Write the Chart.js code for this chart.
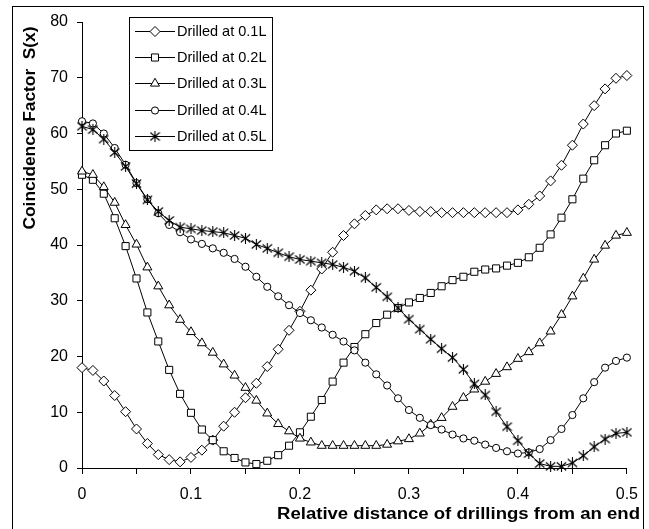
<!DOCTYPE html>
<html>
<head>
<meta charset="utf-8">
<script src="https://cdn.jsdelivr.net/npm/chart.js@4/dist/chart.umd.min.js"></script>
<style>
  html, body { margin: 0; padding: 0; background: #fff; }
  #wrap { width: 649px; height: 529px; }
</style>
</head>
<body>
<div id="wrap"><canvas id="coincidenceChart" width="649" height="529"></canvas></div>
<script>
const distance = [
  0, 0.01, 0.02, 0.03, 0.04, 0.05, 0.06, 0.07, 0.08, 0.09,
  0.1, 0.11, 0.12, 0.13, 0.14, 0.15, 0.16, 0.17, 0.18, 0.19,
  0.2, 0.21, 0.22, 0.23, 0.24, 0.25, 0.26, 0.27, 0.28, 0.29,
  0.3, 0.31, 0.32, 0.33, 0.34, 0.35, 0.36, 0.37, 0.38, 0.39,
  0.4, 0.41, 0.42, 0.43, 0.44, 0.45, 0.46, 0.47, 0.48, 0.49, 0.5
];

const drilled01 = [
  18.0, 17.5, 15.6, 13.0, 10.1, 7.0, 4.4, 2.4, 1.5, 1.1,
  1.9, 3.2, 5.0, 7.5, 10.0, 12.6, 15.2, 18.2, 21.3, 24.7,
  28.1, 31.9, 35.7, 38.7, 41.7, 43.8, 45.3, 46.3, 46.5, 46.5,
  46.2, 46.0, 46.0, 45.8, 45.8, 45.8, 45.8, 45.8, 45.8, 45.8,
  46.3, 47.3, 48.8, 51.5, 54.3, 57.9, 61.7, 65.0, 68.0, 69.9, 70.4
];

const drilled02 = [
  52.6, 51.7, 49.2, 44.8, 39.8, 34.0, 27.9, 22.7, 17.6, 13.3,
  9.9, 6.9, 5.0, 3.0, 1.8, 1.0, 0.7, 1.3, 2.3, 4.0,
  6.4, 9.2, 12.2, 15.5, 18.9, 21.7, 24.0, 26.0, 27.5, 28.7,
  29.7, 30.5, 31.4, 32.6, 33.7, 34.3, 35.2, 35.6, 35.8, 36.3,
  36.8, 37.8, 39.5, 41.9, 44.9, 48.2, 51.9, 55.2, 57.9, 60.0, 60.5
];

const drilled03 = [
  53.2, 52.6, 50.4, 47.6, 43.6, 40.1, 36.0, 32.6, 29.2, 26.6,
  24.4, 22.4, 20.7, 18.6, 16.6, 14.4, 12.1, 9.8, 7.9, 6.6,
  5.3, 4.6, 4.0, 4.0, 4.0, 4.0, 4.0, 4.0, 4.2, 4.8,
  5.2, 6.2, 7.8, 9.0, 11.0, 12.6, 14.1, 15.5, 16.9, 18.1,
  19.6, 20.8, 22.4, 24.5, 27.5, 30.8, 34.0, 37.4, 39.9, 41.7, 42.2
];

const drilled04 = [
  62.2, 61.8, 60.0, 57.4, 54.4, 51.1, 48.2, 45.7, 43.6, 42.3,
  41.0, 40.2, 39.4, 38.6, 37.5, 36.1, 34.3, 32.5, 30.8, 29.2,
  27.8, 26.5, 25.2, 23.9, 22.7, 21.1, 18.9, 16.8, 14.8, 12.5,
  10.4, 9.0, 7.7, 6.9, 6.0, 5.3, 4.9, 4.2, 3.6, 3.0,
  2.6, 2.8, 3.4, 5.0, 7.0, 9.5, 12.5, 15.4, 18.0, 19.2, 19.8
];

const drilled05 = [
  61.3, 60.7, 59.0, 56.6, 54.1, 51.0, 48.1, 46.0, 44.4, 43.2,
  42.9, 42.6, 42.4, 42.2, 41.7, 41.2, 40.1, 39.4, 38.6, 37.9,
  37.4, 37.1, 36.8, 36.5, 36.0, 35.3, 34.1, 32.4, 30.7, 28.7,
  26.7, 24.9, 23.1, 21.4, 19.8, 17.7, 15.1, 13.1, 10.1, 7.4,
  4.9, 2.6, 0.8, 0.3, 0.3, 0.9, 2.2, 3.8, 5.2, 6.2, 6.4
];

const seriesNames = ['Drilled at 0.1L', 'Drilled at 0.2L', 'Drilled at 0.3L', 'Drilled at 0.4L', 'Drilled at 0.5L'];
const seriesValues = [drilled01, drilled02, drilled03, drilled04, drilled05];

const FONT = '"Liberation Sans", Arial, Helvetica, sans-serif';

// asterisk marker like the excel "star" (vertical bar + X)
const makeStar = (size) => {
  const c = document.createElement('canvas');
  c.width = size;
  c.height = size;
  const g = c.getContext('2d');
  const m = size / 2;
  g.strokeStyle = '#000';
  g.lineWidth = 1.1;
  g.beginPath();
  g.moveTo(m, 0);
  g.lineTo(m, size);
  g.moveTo(0.8, 1.5);
  g.lineTo(size - 0.8, size - 1.5);
  g.moveTo(size - 0.8, 1.5);
  g.lineTo(0.8, size - 1.5);
  g.stroke();
  return c;
};

const markers = [
  { style: 'rectRot', radius: 5 },
  { style: 'rect', radius: 5 },
  { style: 'triangle', radius: 5.2 },
  { style: 'circle', radius: 3.6 },
  { style: makeStar(11), radius: 5 }
];

const frameAndText = {
  id: 'frameAndText',
  afterDraw(chart) {
    const ctx = chart.ctx;
    ctx.save();

    // outer frame
    ctx.strokeStyle = '#000';
    ctx.lineWidth = 1;
    ctx.strokeRect(12.5, 6.5, 631, 540);

    // y axis title
    ctx.save();
    ctx.translate(31, 128);
    ctx.rotate(-Math.PI / 2);
    ctx.font = 'bold 16px ' + FONT;
    ctx.fillStyle = '#000';
    ctx.textAlign = 'center';
    ctx.textBaseline = 'middle';
    const yTitle = 'Coincidence Factor  S(x)';
    const yw = ctx.measureText(yTitle).width;
    ctx.scale(203 / yw, 1);
    ctx.fillText(yTitle, 0, 0);
    ctx.restore();

    // x axis title, right aligned
    ctx.save();
    ctx.font = 'bold 16px ' + FONT;
    ctx.fillStyle = '#000';
    ctx.textBaseline = 'middle';
    const xTitle = 'Relative distance of drillings from an end';
    const xw = ctx.measureText(xTitle).width;
    ctx.translate(640 - 363, 515);
    ctx.scale(363 / xw, 1);
    ctx.fillText(xTitle, 0, 0);
    ctx.restore();

    // legend box
    ctx.fillStyle = '#fff';
    ctx.fillRect(129.5, 17.5, 143, 133);
    ctx.strokeRect(129.5, 17.5, 143, 133);
    ctx.font = '14.5px ' + FONT;
    ctx.textBaseline = 'middle';
    ctx.textAlign = 'left';
    seriesNames.forEach((name, i) => {
      const y = 31 + i * 26.2;
      ctx.beginPath();
      ctx.moveTo(135, Math.round(y) + 0.5);
      ctx.lineTo(175, Math.round(y) + 0.5);
      ctx.strokeStyle = '#000';
      ctx.lineWidth = 1;
      ctx.stroke();
      ctx.fillStyle = '#fff';
      Chart.helpers.drawPoint(ctx, {
        pointStyle: markers[i].style,
        radius: markers[i].radius,
        borderWidth: 1,
        rotation: 0
      }, 155, Math.round(y) + 0.5);
      ctx.fillStyle = '#000';
      ctx.fillText(name, 177, y + 1);
    });

    ctx.restore();
  }
};

const initChart = () => {
  const canvas = document.getElementById('coincidenceChart');

  const datasets = seriesValues.map((values, i) => ({
    label: seriesNames[i],
    data: values.map((v, k) => ({ x: distance[k], y: v })),
    borderColor: '#000',
    borderWidth: 1,
    backgroundColor: '#fff',
    pointStyle: markers[i].style,
    pointRadius: markers[i].radius,
    pointBorderWidth: 1,
    pointBorderColor: '#000',
    pointBackgroundColor: '#fff',
    tension: 0,
    fill: false,
    clip: false,
    order: 4 - i
  }));

  new Chart(canvas, {
    type: 'line',
    data: { datasets },
    options: {
      responsive: false,
      animation: false,
      devicePixelRatio: 1,
      layout: { padding: { left: 0, right: 19, top: 22, bottom: 0 } },
      scales: {
        x: {
          type: 'linear',
          min: 0,
          max: 0.5,
          afterFit: (scale) => { scale.height = 61; },
          border: { display: true, color: '#000', width: 1 },
          grid: { drawOnChartArea: false, drawTicks: true, tickLength: 6, color: '#000' },
          ticks: {
            stepSize: 0.05,
            autoSkip: false,
            maxRotation: 0,
            padding: 11,
            color: '#000',
            font: { family: FONT, size: 16 },
            callback: (value) => {
              const h = Math.round(value * 100);
              if (h % 10 !== 0) {
                return '';
              }
              return h === 0 ? '0' : (h / 100).toFixed(1);
            }
          }
        },
        y: {
          min: 0,
          max: 80,
          afterFit: (scale) => { scale.width = 82; },
          border: { display: true, color: '#000', width: 1 },
          grid: { drawOnChartArea: false, drawTicks: true, tickLength: 5, color: '#000' },
          ticks: {
            stepSize: 10,
            padding: 9,
            color: '#000',
            font: { family: FONT, size: 16 }
          }
        }
      },
      plugins: {
        legend: { display: false },
        tooltip: { enabled: false }
      }
    },
    plugins: [frameAndText]
  });
};

document.addEventListener('DOMContentLoaded', initChart);
</script>
</body>
</html>
